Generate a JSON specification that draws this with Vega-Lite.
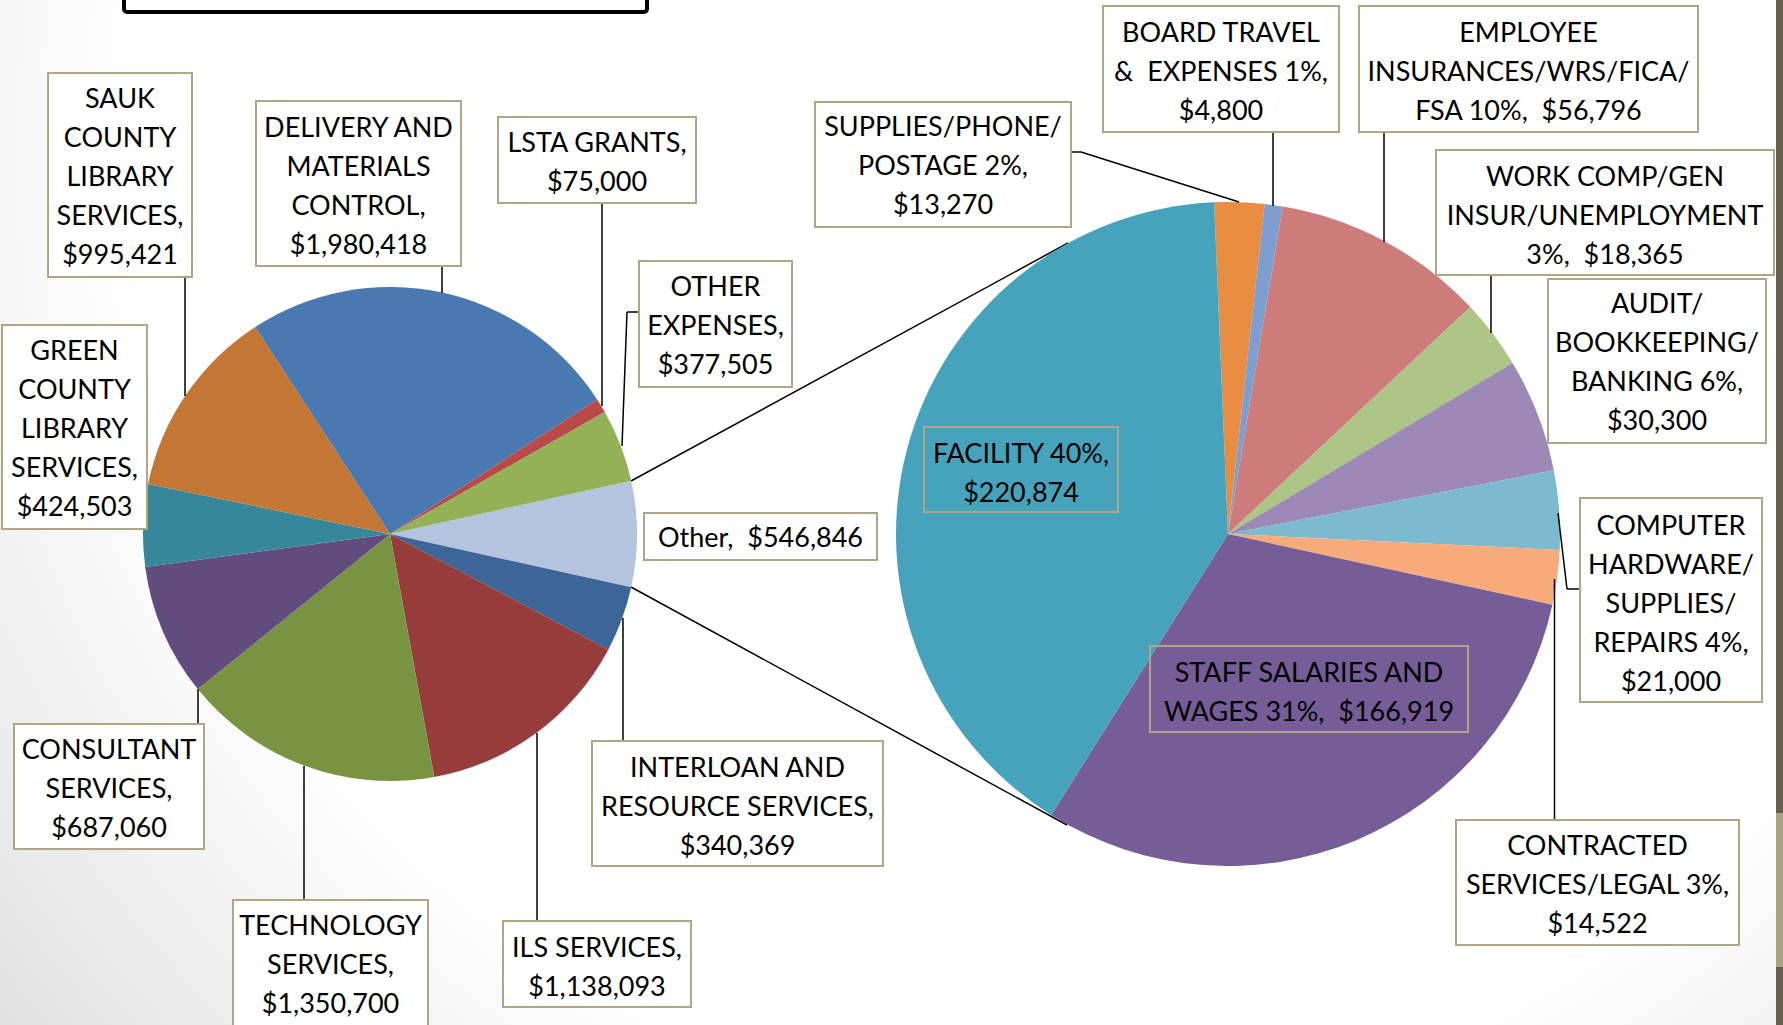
{
  "$schema": "https://vega.github.io/schema/vega-lite/v6.json",
  "width": 1783,
  "height": 1025,
  "padding": 0,
  "autosize": {"type": "none"},
  "background": "#ffffff",
  "config": {"view": {"stroke": null}, "axis": {"disable": true}},
  "datasets": {
    "main": [
      {"cat": "Other", "value": 546846, "ord": 0, "label": ["Other, \u00a0$546,846"]},
      {"cat": "INTERLOAN", "value": 340369, "ord": 1, "label": ["INTERLOAN AND", "RESOURCE SERVICES,", "$340,369"]},
      {"cat": "ILS", "value": 1138093, "ord": 2, "label": ["ILS SERVICES,", "$1,138,093"]},
      {"cat": "TECHNOLOGY", "value": 1350700, "ord": 3, "label": ["TECHNOLOGY", "SERVICES,", "$1,350,700"]},
      {"cat": "CONSULTANT", "value": 687060, "ord": 4, "label": ["CONSULTANT", "SERVICES,", "$687,060"]},
      {"cat": "GREEN", "value": 424503, "ord": 5, "label": ["GREEN", "COUNTY", "LIBRARY", "SERVICES,", "$424,503"]},
      {"cat": "SAUK", "value": 995421, "ord": 6, "label": ["SAUK", "COUNTY", "LIBRARY", "SERVICES,", "$995,421"]},
      {"cat": "DELIVERY", "value": 1980418, "ord": 7, "label": ["DELIVERY AND", "MATERIALS", "CONTROL,", "$1,980,418"]},
      {"cat": "LSTA", "value": 75000, "ord": 8, "label": ["LSTA GRANTS,", "$75,000"]},
      {"cat": "OTHEREXP", "value": 377505, "ord": 9, "label": ["OTHER", "EXPENSES,", "$377,505"]}
    ],
    "sub": [
      {"cat": "SUPPLIES", "value": 13270, "ord": 0, "label": ["SUPPLIES/PHONE/", "POSTAGE 2%,", "$13,270"]},
      {"cat": "BOARD", "value": 4800, "ord": 1, "label": ["BOARD TRAVEL", "& \u00a0EXPENSES 1%,", "$4,800"]},
      {"cat": "EMPLOYEE", "value": 56796, "ord": 2, "label": ["EMPLOYEE", "INSURANCES/WRS/FICA/", "FSA 10%, \u00a0$56,796"]},
      {"cat": "WORK", "value": 18365, "ord": 3, "label": ["WORK COMP/GEN", "INSUR/UNEMPLOYMENT", "3%, \u00a0$18,365"]},
      {"cat": "AUDIT", "value": 30300, "ord": 4, "label": ["AUDIT/", "BOOKKEEPING/", "BANKING 6%,", "$30,300"]},
      {"cat": "COMPUTER", "value": 21000, "ord": 5, "label": ["COMPUTER", "HARDWARE/", "SUPPLIES/", "REPAIRS 4%,", "$21,000"]},
      {"cat": "CONTRACTED", "value": 14522, "ord": 6, "label": ["CONTRACTED", "SERVICES/LEGAL 3%,", "$14,522"]},
      {"cat": "STAFF", "value": 166919, "ord": 7, "label": ["STAFF SALARIES AND", "WAGES 31%, \u00a0$166,919"]},
      {"cat": "FACILITY", "value": 220874, "ord": 8, "label": ["FACILITY 40%,", "$220,874"]}
    ]
  },
  "resolve": {"scale": {"theta": "independent"}},
  "layer": [
    {
      "data": {"values": [{}]},
      "mark": {"type": "rect", "color": {"gradient": "radial", "x1": 0.6, "y1": 0.3, "r1": 0, "x2": 0.6, "y2": 0.3, "r2": 0.8, "stops": [{"offset": 0, "color": "#ffffff"}, {"offset": 0.66, "color": "#ffffff"}, {"offset": 1, "color": "#dedede"}]}},
      "encoding": {
        "x": {"datum": 0, "type": "quantitative", "scale": {"domain": [0, 1783], "nice": false, "zero": false}, "axis": null},
        "x2": {"datum": 1783},
        "y": {"datum": 0, "type": "quantitative", "scale": {"domain": [0, 1025], "nice": false, "zero": false, "reverse": true}, "axis": null},
        "y2": {"datum": 1025}
      }
    },
    {
      "data": {"values": [{}]},
      "layer": [
        {"mark": {"type": "rect", "fill": "#675F4B"}, "encoding": {"x": {"datum": 1776}, "x2": {"datum": 1783}, "y": {"datum": 0}, "y2": {"datum": 1025}}},
        {"mark": {"type": "rect", "fill": "#A9A47F"}, "encoding": {"x": {"datum": 1776}, "x2": {"datum": 1783}, "y": {"datum": 813}, "y2": {"datum": 967}}},
        {"mark": {"type": "rect", "fillOpacity": 0, "stroke": "#000000", "strokeWidth": 4, "cornerRadius": 3}, "encoding": {"x": {"datum": 124}, "x2": {"datum": 647}, "y": {"datum": -20}, "y2": {"datum": 12}}},
        {"mark": {"type": "rule", "color": "#000000", "strokeWidth": 1.5}, "encoding": {"x": {"datum": 631}, "y": {"datum": 481}, "x2": {"datum": 1068}, "y2": {"datum": 243}}},
        {"mark": {"type": "rule", "color": "#000000", "strokeWidth": 1.5}, "encoding": {"x": {"datum": 631}, "y": {"datum": 587}, "x2": {"datum": 1067}, "y2": {"datum": 825}}}
      ]
    },
    {
      "data": {"name": "main"},
      "mark": {"type": "arc", "radius": 247},
      "encoding": {
        "x": {"datum": 390},
        "y": {"datum": 534},
        "theta": {"field": "value", "type": "quantitative", "stack": true, "scale": {"range": [1.35377, 7.63696]}},
        "order": {"field": "ord", "type": "quantitative", "sort": "ascending"},
        "color": {"field": "cat", "type": "nominal", "legend": null,
          "scale": {"domain": ["Other", "INTERLOAN", "ILS", "TECHNOLOGY", "CONSULTANT", "GREEN", "SAUK", "DELIVERY", "LSTA", "OTHEREXP", "SUPPLIES", "BOARD", "EMPLOYEE", "WORK", "AUDIT", "COMPUTER", "CONTRACTED", "STAFF", "FACILITY"],
                    "range": ["#B4C4DE", "#3E6597", "#963C3B", "#789442", "#614D7D", "#37879B", "#C47634", "#4A78B0", "#B84B4A", "#93B156", "#E98D43", "#7E9ED0", "#CC7C7B", "#ADC687", "#9D89B5", "#7DB9CF", "#F7AB7A", "#775D97", "#47A3BB"]}}
      }
    },
    {
      "data": {"name": "sub"},
      "mark": {"type": "arc", "radius": 332},
      "encoding": {
        "x": {"datum": 1228},
        "y": {"datum": 534},
        "theta": {"field": "value", "type": "quantitative", "stack": true, "scale": {"range": [-0.04189, 6.2413]}},
        "order": {"field": "ord", "type": "quantitative", "sort": "ascending"},
        "color": {"field": "cat", "type": "nominal", "legend": null}
      }
    },
    {
      "data": {"name": "main"}, "transform": [{"filter": "datum.cat === 'SAUK'"}],
      "layer": [
        {"mark": {"type": "rule", "color": "#000000", "strokeWidth": 1.5}, "encoding": {"x": {"datum": 185}, "y": {"datum": 277}, "x2": {"datum": 185}, "y2": {"datum": 396}}},
        {"mark": {"type": "rect", "fill": "#ffffff", "stroke": "#ADA785", "strokeWidth": 2}, "encoding": {"x": {"datum": 48}, "x2": {"datum": 192}, "y": {"datum": 73}, "y2": {"datum": 277}}},
        {"mark": {"type": "text", "font": "Lato", "fontSize": 27, "lineHeight": 39, "align": "center", "baseline": "middle", "color": "#000000"}, "encoding": {"x": {"datum": 120}, "y": {"datum": 100}, "text": {"field": "label", "type": "nominal"}}}
      ]
    },
    {
      "data": {"name": "main"}, "transform": [{"filter": "datum.cat === 'DELIVERY'"}],
      "layer": [
        {"mark": {"type": "rule", "color": "#000000", "strokeWidth": 1.5}, "encoding": {"x": {"datum": 442}, "y": {"datum": 266}, "x2": {"datum": 442}, "y2": {"datum": 293}}},
        {"mark": {"type": "rect", "fill": "#ffffff", "stroke": "#ADA785", "strokeWidth": 2}, "encoding": {"x": {"datum": 256}, "x2": {"datum": 461}, "y": {"datum": 101}, "y2": {"datum": 266}}},
        {"mark": {"type": "text", "font": "Lato", "fontSize": 27, "lineHeight": 39, "align": "center", "baseline": "middle", "color": "#000000"}, "encoding": {"x": {"datum": 358.5}, "y": {"datum": 129}, "text": {"field": "label", "type": "nominal"}}}
      ]
    },
    {
      "data": {"name": "main"}, "transform": [{"filter": "datum.cat === 'LSTA'"}],
      "layer": [
        {"mark": {"type": "rule", "color": "#000000", "strokeWidth": 1.5}, "encoding": {"x": {"datum": 602}, "y": {"datum": 203}, "x2": {"datum": 602}, "y2": {"datum": 406}}},
        {"mark": {"type": "rect", "fill": "#ffffff", "stroke": "#ADA785", "strokeWidth": 2}, "encoding": {"x": {"datum": 498}, "x2": {"datum": 696}, "y": {"datum": 117}, "y2": {"datum": 203}}},
        {"mark": {"type": "text", "font": "Lato", "fontSize": 27, "lineHeight": 39, "align": "center", "baseline": "middle", "color": "#000000"}, "encoding": {"x": {"datum": 597}, "y": {"datum": 144}, "text": {"field": "label", "type": "nominal"}}}
      ]
    },
    {
      "data": {"name": "main"}, "transform": [{"filter": "datum.cat === 'OTHEREXP'"}],
      "layer": [
        {"mark": {"type": "rule", "color": "#000000", "strokeWidth": 1.5}, "encoding": {"x": {"datum": 639}, "y": {"datum": 312}, "x2": {"datum": 627}, "y2": {"datum": 312}}},
        {"mark": {"type": "rule", "color": "#000000", "strokeWidth": 1.5}, "encoding": {"x": {"datum": 627}, "y": {"datum": 312}, "x2": {"datum": 622}, "y2": {"datum": 446}}},
        {"mark": {"type": "rect", "fill": "#ffffff", "stroke": "#ADA785", "strokeWidth": 2}, "encoding": {"x": {"datum": 639}, "x2": {"datum": 792}, "y": {"datum": 261}, "y2": {"datum": 387}}},
        {"mark": {"type": "text", "font": "Lato", "fontSize": 27, "lineHeight": 39, "align": "center", "baseline": "middle", "color": "#000000"}, "encoding": {"x": {"datum": 715.5}, "y": {"datum": 288}, "text": {"field": "label", "type": "nominal"}}}
      ]
    },
    {
      "data": {"name": "main"}, "transform": [{"filter": "datum.cat === 'Other'"}],
      "layer": [
        {"mark": {"type": "rect", "fill": "#ffffff", "stroke": "#ADA785", "strokeWidth": 2}, "encoding": {"x": {"datum": 644}, "x2": {"datum": 877}, "y": {"datum": 513}, "y2": {"datum": 560}}},
        {"mark": {"type": "text", "font": "Lato", "fontSize": 27, "lineHeight": 39, "align": "center", "baseline": "middle", "color": "#000000"}, "encoding": {"x": {"datum": 760.5}, "y": {"datum": 539}, "text": {"field": "label", "type": "nominal"}}}
      ]
    },
    {
      "data": {"name": "main"}, "transform": [{"filter": "datum.cat === 'INTERLOAN'"}],
      "layer": [
        {"mark": {"type": "rule", "color": "#000000", "strokeWidth": 1.5}, "encoding": {"x": {"datum": 623}, "y": {"datum": 741}, "x2": {"datum": 623}, "y2": {"datum": 618}}},
        {"mark": {"type": "rect", "fill": "#ffffff", "stroke": "#ADA785", "strokeWidth": 2}, "encoding": {"x": {"datum": 592}, "x2": {"datum": 883}, "y": {"datum": 741}, "y2": {"datum": 866}}},
        {"mark": {"type": "text", "font": "Lato", "fontSize": 27, "lineHeight": 39, "align": "center", "baseline": "middle", "color": "#000000"}, "encoding": {"x": {"datum": 737.5}, "y": {"datum": 769}, "text": {"field": "label", "type": "nominal"}}}
      ]
    },
    {
      "data": {"name": "main"}, "transform": [{"filter": "datum.cat === 'ILS'"}],
      "layer": [
        {"mark": {"type": "rule", "color": "#000000", "strokeWidth": 1.5}, "encoding": {"x": {"datum": 537}, "y": {"datum": 921}, "x2": {"datum": 537}, "y2": {"datum": 733}}},
        {"mark": {"type": "rect", "fill": "#ffffff", "stroke": "#ADA785", "strokeWidth": 2}, "encoding": {"x": {"datum": 503}, "x2": {"datum": 691}, "y": {"datum": 921}, "y2": {"datum": 1007}}},
        {"mark": {"type": "text", "font": "Lato", "fontSize": 27, "lineHeight": 39, "align": "center", "baseline": "middle", "color": "#000000"}, "encoding": {"x": {"datum": 597}, "y": {"datum": 949}, "text": {"field": "label", "type": "nominal"}}}
      ]
    },
    {
      "data": {"name": "main"}, "transform": [{"filter": "datum.cat === 'TECHNOLOGY'"}],
      "layer": [
        {"mark": {"type": "rule", "color": "#000000", "strokeWidth": 1.5}, "encoding": {"x": {"datum": 304}, "y": {"datum": 900}, "x2": {"datum": 304}, "y2": {"datum": 766}}},
        {"mark": {"type": "rect", "fill": "#ffffff", "stroke": "#ADA785", "strokeWidth": 2}, "encoding": {"x": {"datum": 233}, "x2": {"datum": 428}, "y": {"datum": 900}, "y2": {"datum": 1035}}},
        {"mark": {"type": "text", "font": "Lato", "fontSize": 27, "lineHeight": 39, "align": "center", "baseline": "middle", "color": "#000000"}, "encoding": {"x": {"datum": 330.5}, "y": {"datum": 927}, "text": {"field": "label", "type": "nominal"}}}
      ]
    },
    {
      "data": {"name": "main"}, "transform": [{"filter": "datum.cat === 'CONSULTANT'"}],
      "layer": [
        {"mark": {"type": "rule", "color": "#000000", "strokeWidth": 1.5}, "encoding": {"x": {"datum": 198}, "y": {"datum": 724}, "x2": {"datum": 198}, "y2": {"datum": 689}}},
        {"mark": {"type": "rect", "fill": "#ffffff", "stroke": "#ADA785", "strokeWidth": 2}, "encoding": {"x": {"datum": 14}, "x2": {"datum": 204}, "y": {"datum": 724}, "y2": {"datum": 849}}},
        {"mark": {"type": "text", "font": "Lato", "fontSize": 27, "lineHeight": 39, "align": "center", "baseline": "middle", "color": "#000000"}, "encoding": {"x": {"datum": 109}, "y": {"datum": 751}, "text": {"field": "label", "type": "nominal"}}}
      ]
    },
    {
      "data": {"name": "main"}, "transform": [{"filter": "datum.cat === 'GREEN'"}],
      "layer": [
        {"mark": {"type": "rect", "fill": "#ffffff", "stroke": "#ADA785", "strokeWidth": 2}, "encoding": {"x": {"datum": 2}, "x2": {"datum": 147}, "y": {"datum": 325}, "y2": {"datum": 529}}},
        {"mark": {"type": "text", "font": "Lato", "fontSize": 27, "lineHeight": 39, "align": "center", "baseline": "middle", "color": "#000000"}, "encoding": {"x": {"datum": 74.5}, "y": {"datum": 352}, "text": {"field": "label", "type": "nominal"}}}
      ]
    },
    {
      "data": {"name": "sub"}, "transform": [{"filter": "datum.cat === 'SUPPLIES'"}],
      "layer": [
        {"mark": {"type": "rule", "color": "#000000", "strokeWidth": 1.5}, "encoding": {"x": {"datum": 1071}, "y": {"datum": 152}, "x2": {"datum": 1081}, "y2": {"datum": 152}}},
        {"mark": {"type": "rule", "color": "#000000", "strokeWidth": 1.5}, "encoding": {"x": {"datum": 1081}, "y": {"datum": 152}, "x2": {"datum": 1239}, "y2": {"datum": 202}}},
        {"mark": {"type": "rect", "fill": "#ffffff", "stroke": "#ADA785", "strokeWidth": 2}, "encoding": {"x": {"datum": 815}, "x2": {"datum": 1071}, "y": {"datum": 102}, "y2": {"datum": 227}}},
        {"mark": {"type": "text", "font": "Lato", "fontSize": 27, "lineHeight": 39, "align": "center", "baseline": "middle", "color": "#000000"}, "encoding": {"x": {"datum": 943}, "y": {"datum": 128}, "text": {"field": "label", "type": "nominal"}}}
      ]
    },
    {
      "data": {"name": "sub"}, "transform": [{"filter": "datum.cat === 'BOARD'"}],
      "layer": [
        {"mark": {"type": "rule", "color": "#000000", "strokeWidth": 1.5}, "encoding": {"x": {"datum": 1273}, "y": {"datum": 132}, "x2": {"datum": 1273}, "y2": {"datum": 206}}},
        {"mark": {"type": "rect", "fill": "#ffffff", "stroke": "#ADA785", "strokeWidth": 2}, "encoding": {"x": {"datum": 1103}, "x2": {"datum": 1339}, "y": {"datum": 6}, "y2": {"datum": 132}}},
        {"mark": {"type": "text", "font": "Lato", "fontSize": 27, "lineHeight": 39, "align": "center", "baseline": "middle", "color": "#000000"}, "encoding": {"x": {"datum": 1221}, "y": {"datum": 34}, "text": {"field": "label", "type": "nominal"}}}
      ]
    },
    {
      "data": {"name": "sub"}, "transform": [{"filter": "datum.cat === 'EMPLOYEE'"}],
      "layer": [
        {"mark": {"type": "rule", "color": "#000000", "strokeWidth": 1.5}, "encoding": {"x": {"datum": 1384}, "y": {"datum": 132}, "x2": {"datum": 1384}, "y2": {"datum": 242}}},
        {"mark": {"type": "rect", "fill": "#ffffff", "stroke": "#ADA785", "strokeWidth": 2}, "encoding": {"x": {"datum": 1359}, "x2": {"datum": 1698}, "y": {"datum": 6}, "y2": {"datum": 132}}},
        {"mark": {"type": "text", "font": "Lato", "fontSize": 27, "lineHeight": 39, "align": "center", "baseline": "middle", "color": "#000000"}, "encoding": {"x": {"datum": 1528.5}, "y": {"datum": 34}, "text": {"field": "label", "type": "nominal"}}}
      ]
    },
    {
      "data": {"name": "sub"}, "transform": [{"filter": "datum.cat === 'WORK'"}],
      "layer": [
        {"mark": {"type": "rule", "color": "#000000", "strokeWidth": 1.5}, "encoding": {"x": {"datum": 1491}, "y": {"datum": 275}, "x2": {"datum": 1491}, "y2": {"datum": 333}}},
        {"mark": {"type": "rect", "fill": "#ffffff", "stroke": "#ADA785", "strokeWidth": 2}, "encoding": {"x": {"datum": 1436}, "x2": {"datum": 1774}, "y": {"datum": 150}, "y2": {"datum": 275}}},
        {"mark": {"type": "text", "font": "Lato", "fontSize": 27, "lineHeight": 39, "align": "center", "baseline": "middle", "color": "#000000"}, "encoding": {"x": {"datum": 1605}, "y": {"datum": 178}, "text": {"field": "label", "type": "nominal"}}}
      ]
    },
    {
      "data": {"name": "sub"}, "transform": [{"filter": "datum.cat === 'AUDIT'"}],
      "layer": [
        {"mark": {"type": "rect", "fill": "#ffffff", "stroke": "#ADA785", "strokeWidth": 2}, "encoding": {"x": {"datum": 1548}, "x2": {"datum": 1766}, "y": {"datum": 279}, "y2": {"datum": 443}}},
        {"mark": {"type": "text", "font": "Lato", "fontSize": 27, "lineHeight": 39, "align": "center", "baseline": "middle", "color": "#000000"}, "encoding": {"x": {"datum": 1657}, "y": {"datum": 305}, "text": {"field": "label", "type": "nominal"}}}
      ]
    },
    {
      "data": {"name": "sub"}, "transform": [{"filter": "datum.cat === 'COMPUTER'"}],
      "layer": [
        {"mark": {"type": "rule", "color": "#000000", "strokeWidth": 1.5}, "encoding": {"x": {"datum": 1580}, "y": {"datum": 589}, "x2": {"datum": 1567}, "y2": {"datum": 589}}},
        {"mark": {"type": "rule", "color": "#000000", "strokeWidth": 1.5}, "encoding": {"x": {"datum": 1567}, "y": {"datum": 589}, "x2": {"datum": 1558}, "y2": {"datum": 513}}},
        {"mark": {"type": "rect", "fill": "#ffffff", "stroke": "#ADA785", "strokeWidth": 2}, "encoding": {"x": {"datum": 1580}, "x2": {"datum": 1762}, "y": {"datum": 498}, "y2": {"datum": 702}}},
        {"mark": {"type": "text", "font": "Lato", "fontSize": 27, "lineHeight": 39, "align": "center", "baseline": "middle", "color": "#000000"}, "encoding": {"x": {"datum": 1671}, "y": {"datum": 527}, "text": {"field": "label", "type": "nominal"}}}
      ]
    },
    {
      "data": {"name": "sub"}, "transform": [{"filter": "datum.cat === 'CONTRACTED'"}],
      "layer": [
        {"mark": {"type": "rule", "color": "#000000", "strokeWidth": 1.5}, "encoding": {"x": {"datum": 1554.5}, "y": {"datum": 820}, "x2": {"datum": 1554.5}, "y2": {"datum": 579}}},
        {"mark": {"type": "rect", "fill": "#ffffff", "stroke": "#ADA785", "strokeWidth": 2}, "encoding": {"x": {"datum": 1456}, "x2": {"datum": 1739}, "y": {"datum": 820}, "y2": {"datum": 945}}},
        {"mark": {"type": "text", "font": "Lato", "fontSize": 27, "lineHeight": 39, "align": "center", "baseline": "middle", "color": "#000000"}, "encoding": {"x": {"datum": 1597.5}, "y": {"datum": 847}, "text": {"field": "label", "type": "nominal"}}}
      ]
    },
    {
      "data": {"name": "sub"}, "transform": [{"filter": "datum.cat === 'STAFF'"}],
      "layer": [
        {"mark": {"type": "rect", "fillOpacity": 0, "stroke": "#ADA785", "strokeWidth": 2}, "encoding": {"x": {"datum": 1150}, "x2": {"datum": 1468}, "y": {"datum": 646}, "y2": {"datum": 732}}},
        {"mark": {"type": "text", "font": "Lato", "fontSize": 27, "lineHeight": 39, "align": "center", "baseline": "middle", "color": "#000000"}, "encoding": {"x": {"datum": 1309}, "y": {"datum": 674}, "text": {"field": "label", "type": "nominal"}}}
      ]
    },
    {
      "data": {"name": "sub"}, "transform": [{"filter": "datum.cat === 'FACILITY'"}],
      "layer": [
        {"mark": {"type": "rect", "fillOpacity": 0, "stroke": "#ADA785", "strokeWidth": 2}, "encoding": {"x": {"datum": 924}, "x2": {"datum": 1118}, "y": {"datum": 427}, "y2": {"datum": 512}}},
        {"mark": {"type": "text", "font": "Lato", "fontSize": 27, "lineHeight": 39, "align": "center", "baseline": "middle", "color": "#000000"}, "encoding": {"x": {"datum": 1021}, "y": {"datum": 455}, "text": {"field": "label", "type": "nominal"}}}
      ]
    }
  ]
}
